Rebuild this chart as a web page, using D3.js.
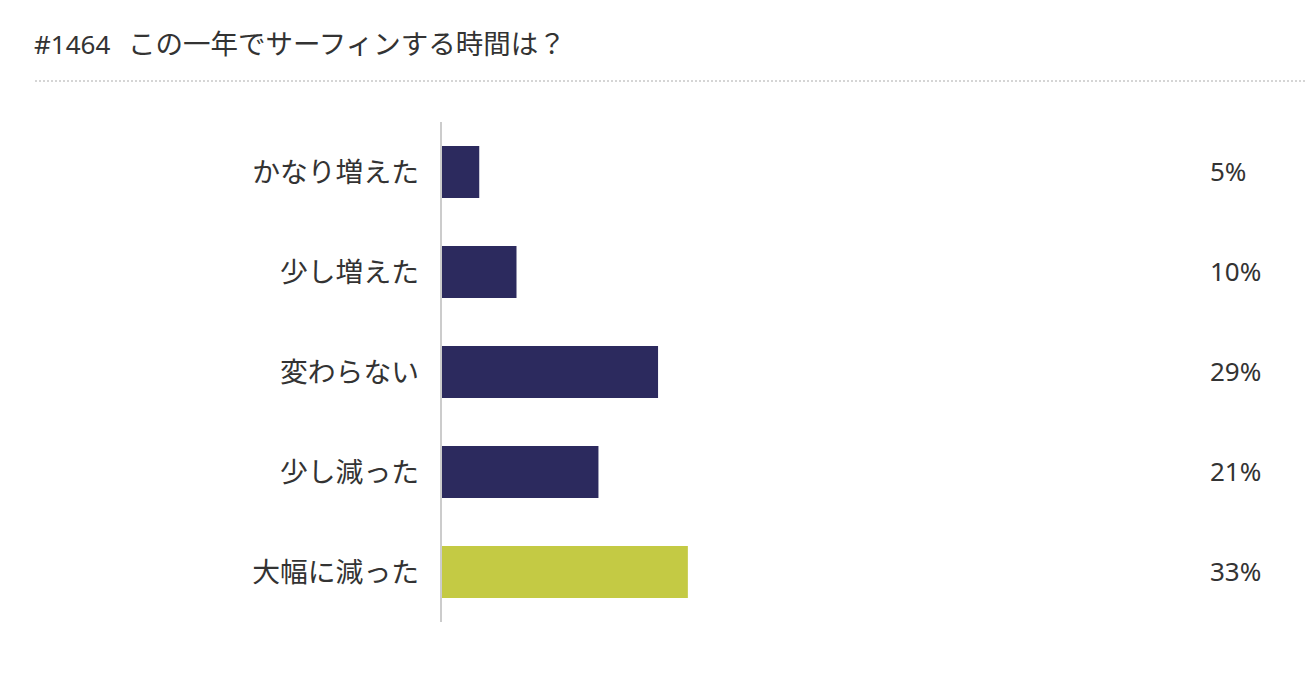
<!DOCTYPE html>
<html>
<head>
<meta charset="utf-8">
<script src="https://cdn.jsdelivr.net/npm/d3@7"></script>
<style>
  html, body { margin: 0; padding: 0; background: #fff; }
  body { width: 1306px; height: 698px; overflow: hidden; }
  text { font-family: "Noto Sans", "Noto Sans CJK JP", sans-serif; fill: #333; }
</style>
</head>
<body>
<div id="chart"></div>
<script>
// ---------- Data ----------
const TITLE_NUM = "#1464";
const TITLE_TEXT = "この一年でサーフィンする時間は？";
const CATEGORIES = ["かなり増えた", "少し増えた", "変わらない", "少し減った", "大幅に減った"];
const VALUES = [5, 10, 29, 21, 33];
const HIGHLIGHT = "大幅に減った";

const W = 1306, H = 698;
const BAR_COLOR = "#2c2a5e";
const HI_COLOR = "#c4ca44";

const svg = d3.select("#chart").append("svg")
  .attr("width", W).attr("height", H);

// title + dotted rule
const title = svg.append("text")
  .attr("x", 34).attr("y", 54);
title.append("tspan").style("font-size", "26px").text(TITLE_NUM);
title.append("tspan").attr("x", 128).style("font-size", "27.5px").text(TITLE_TEXT);

svg.append("line")
  .attr("x1", 35).attr("x2", W)
  .attr("y1", 81).attr("y2", 81)
  .attr("stroke", "#c8c8c8")
  .attr("stroke-width", 1.5)
  .attr("stroke-dasharray", "2,2");

// scales
const x = d3.scaleLinear().domain([0, 100]).range([442, 1187]);
const y = d3.scaleBand()
  .domain(CATEGORIES)
  .range([122, 622])
  .paddingInner(0.48)
  .paddingOuter(0.24);

const rows = CATEGORIES.map((c, i) => ({ name: c, value: VALUES[i] }));

// bars
svg.append("g").selectAll("rect")
  .data(rows).join("rect")
    .attr("x", x(0))
    .attr("y", d => y(d.name))
    .attr("width", d => x(d.value) - x(0))
    .attr("height", y.bandwidth())
    .attr("fill", d => d.name === HIGHLIGHT ? HI_COLOR : BAR_COLOR);

// vertical axis line
svg.append("line")
  .attr("x1", 441).attr("x2", 441)
  .attr("y1", 122).attr("y2", 622)
  .attr("stroke", "#cccccc")
  .attr("stroke-width", 2);

// category labels
svg.append("g").selectAll("text")
  .data(rows).join("text")
    .attr("x", 419)
    .attr("y", d => y(d.name) + y.bandwidth() / 2 + 10)
    .attr("text-anchor", "end")
    .style("font-size", "27.8px")
    .text(d => d.name);

// value labels
svg.append("g").selectAll("text")
  .data(rows).join("text")
    .attr("x", 1210)
    .attr("y", d => y(d.name) + y.bandwidth() / 2 + 9)
    .style("font-size", "26px")
    .text(d => d.value + "%");
</script>
</body>
</html>
